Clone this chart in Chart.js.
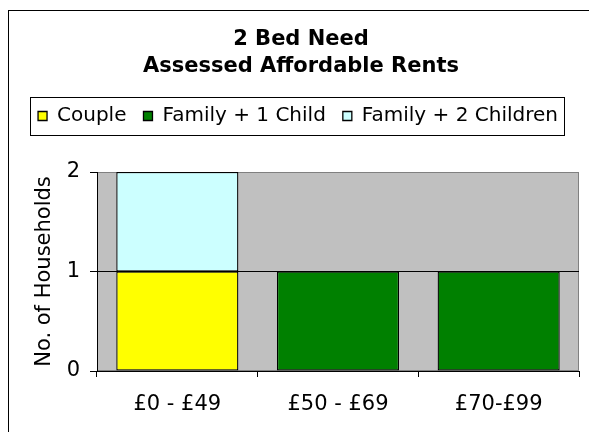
<!DOCTYPE html>
<html>
<head>
<meta charset="utf-8">
<script src="https://cdn.jsdelivr.net/npm/chart.js@4/dist/chart.umd.min.js"></script>
<style>
  html, body { margin: 0; padding: 0; background: #fff; }
  #wrap { width: 589px; height: 432px; position: relative; }
</style>
</head>
<body>
<div id="wrap"><canvas id="c" width="589" height="432"></canvas></div>
<script>
const categories = ['£0 - £49', '£50 - £69', '£70-£99'];
const couple = [1, 0, 0];
const familyOneChild = [0, 1, 1];
const familyTwoChildren = [1, 0, 0];
const seriesNames = ['Couple', 'Family + 1 Child', 'Family + 2 Children'];
const titleLines = ['2 Bed Need', 'Assessed Affordable Rents'];
const yTitle = 'No. of Households';
const yTicks = [0, 1, 2];

Chart.defaults.font.family = "'DejaVu Sans', Verdana, sans-serif";
Chart.defaults.color = '#000';

const decor = {
  id: 'decor',
  afterLayout(chart) {
    chart.titleBlock.left = 23; chart.titleBlock.right = 579;
    const lg = chart.legend;
    const h = lg.bottom - lg.top;
    lg.left = 17; lg.right = 579;
    lg.top = 89; lg.bottom = 89 + h;
  },
  beforeDraw(chart) {
    const ctx = chart.ctx, a = chart.chartArea;
    ctx.save();
    ctx.fillStyle = '#fff';
    ctx.fillRect(0, 0, chart.width, chart.height);
    ctx.strokeStyle = '#000';
    ctx.lineWidth = 1;
    ctx.strokeRect(8.5, 10.5, 800, 600);
    ctx.fillStyle = '#C0C0C0';
    ctx.fillRect(a.left, a.top, a.right - a.left, a.bottom - a.top);
    ctx.strokeStyle = '#808080';
    ctx.strokeRect(a.left + 0.5, a.top + 0.5, a.right - a.left - 1, a.bottom - a.top - 1);
    ctx.restore();
  },
  afterDraw(chart) {
    const lg = chart.legend, ctx = chart.ctx;
    const p = lg.options.labels.padding;
    const lw = lg.lineWidths[0];
    const sx = (lg.left + p + lg.right - lw) / 2;
    const ex = sx + lw - p;
    const cy = lg.top + p + 10;
    ctx.save();
    ctx.strokeStyle = '#000';
    ctx.lineWidth = 1;
    ctx.strokeRect(Math.round(sx - 8) + 0.5, Math.round(cy - 19) + 0.5, Math.round(ex - sx + 14), 38);
    ctx.restore();
  }
};

new Chart(document.getElementById('c'), {
  type: 'bar',
  data: {
    labels: categories,
    datasets: [
      { label: seriesNames[0], data: couple, backgroundColor: '#FFFF00' },
      { label: seriesNames[1], data: familyOneChild, backgroundColor: '#008000' },
      { label: seriesNames[2], data: familyTwoChildren, backgroundColor: '#CCFFFF' }
    ].map(d => Object.assign(d, {
      borderColor: '#000', borderWidth: 1.3, borderSkipped: false,
      categoryPercentage: 1, barPercentage: 0.76
    }))
  },
  options: {
    responsive: false,
    animation: false,
    devicePixelRatio: 1,
    layout: { padding: { left: 8, right: 10, top: 0, bottom: 0 } },
    plugins: {
      title: {
        display: true, text: titleLines,
        font: { size: 21, weight: 'bold', lineHeight: 27 / 21 },
        padding: { top: 26, bottom: 45 }, color: '#000'
      },
      legend: {
        display: true, position: 'top',
        labels: { boxWidth: 9, boxHeight: 9, padding: 17, font: { size: 20 }, color: '#000' }
      },
      tooltip: { enabled: false }
    },
    scales: {
      x: {
        stacked: true,
        offset: true,
        afterFit(s) { s.height = 61; },
        grid: { display: true, drawOnChartArea: false, drawTicks: true, tickLength: 6, color: '#000', offset: true },
        border: { display: true, color: '#000' },
        ticks: { font: { size: 21 }, color: '#000', padding: 15, maxRotation: 0 }
      },
      y: {
        stacked: true,
        min: 0, max: 2,
        afterFit(s) { s.width = 89; },
        afterBuildTicks(s) { s.ticks = yTicks.map(v => ({ value: v })); },
        grid: {
          color: ctx => (ctx.tick && ctx.tick.value === 2 ? '#808080' : '#000'),
          tickColor: '#000', tickLength: 7, drawTicks: true
        },
        border: { display: true, color: '#000' },
        ticks: { stepSize: 1, font: { size: 21 }, color: '#000', padding: 10 },
        title: { display: true, text: yTitle, font: { size: 21 }, color: '#000', padding: { top: 24, bottom: 0 } }
      }
    }
  },
  plugins: [decor]
});
</script>
</body>
</html>
